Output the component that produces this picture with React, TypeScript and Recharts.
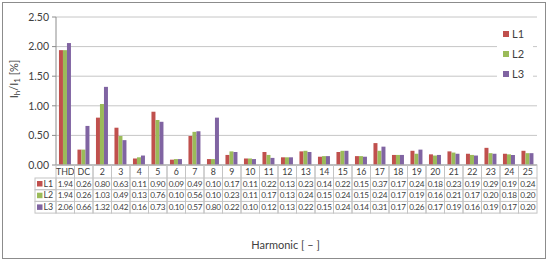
import React from "react";
import {
  BarChart,
  Bar,
  XAxis,
  YAxis,
  CartesianGrid,
  Label,
} from "recharts";

// Harmonic order categories (first two are THD and DC)
const CATEGORIES = [
  "THD", "DC", "2", "3", "4", "5", "6", "7", "8", "9", "10", "11", "12",
  "13", "14", "15", "16", "17", "18", "19", "20", "21", "22", "23", "24", "25",
];

// Ih/I1 in percent per phase
const L1 = [
  1.94, 0.26, 0.8, 0.63, 0.11, 0.9, 0.09, 0.49, 0.1, 0.17, 0.11, 0.22, 0.13,
  0.23, 0.14, 0.22, 0.15, 0.37, 0.17, 0.24, 0.18, 0.23, 0.19, 0.29, 0.19, 0.24,
];
const L2 = [
  1.94, 0.26, 1.03, 0.49, 0.13, 0.76, 0.1, 0.56, 0.1, 0.23, 0.11, 0.17, 0.13,
  0.24, 0.15, 0.24, 0.15, 0.24, 0.17, 0.19, 0.16, 0.21, 0.17, 0.2, 0.18, 0.2,
];
const L3 = [
  2.06, 0.66, 1.32, 0.42, 0.16, 0.73, 0.1, 0.57, 0.8, 0.22, 0.1, 0.12, 0.13,
  0.22, 0.15, 0.24, 0.14, 0.31, 0.17, 0.26, 0.17, 0.19, 0.16, 0.19, 0.17, 0.2,
];

const Y_TICKS = [0, 0.5, 1, 1.5, 2, 2.5];

const SERIES = [
  { key: "L1", color: "#C0504D", values: L1 },
  { key: "L2", color: "#9BBB59", values: L2 },
  { key: "L3", color: "#8064A2", values: L3 },
];

const data = CATEGORIES.map((name, i) => {
  const row: Record<string, string | number> = { name };
  SERIES.forEach((s) => (row[s.key] = s.values[i]));
  return row;
});

const FONT = "Lato, 'Liberation Sans', sans-serif";
const TEXT = "#404040";
const BORDER = "#c4c4c4";

// chart geometry
const W = 550;
const H = 264;
const LEFT = 56; // y axis position
const RIGHT = 13;
const BAND = (W - LEFT - RIGHT) / CATEGORIES.length;
const HEADER_H = 13;
const ROW_H = 11.7;

// Each x tick draws one column of the data table under the plot
const TableTick = (props: any) => {
  const { x, y, payload } = props;
  const i = payload.index;
  const left = x - BAND / 2;
  const total = HEADER_H + ROW_H * SERIES.length;
  return (
    <g fontFamily={FONT}>
      <rect x={left} y={y} width={BAND} height={total} fill="none" stroke={BORDER} strokeWidth={1} />
      {SERIES.map((s, r) => (
        <line
          key={s.key}
          x1={left}
          x2={left + BAND}
          y1={y + HEADER_H + ROW_H * r}
          y2={y + HEADER_H + ROW_H * r}
          stroke={BORDER}
        />
      ))}
      <text x={x} y={y + 10} textAnchor="middle" fontSize={8.8} fill={TEXT}>
        {payload.value}
      </text>
      {SERIES.map((s, r) => (
        <text
          key={s.key}
          x={x}
          y={y + HEADER_H + ROW_H * r + 8.6}
          textAnchor="middle"
          fontSize={8.2}
          letterSpacing={-0.3}
          fill={TEXT}
        >
          {s.values[i].toFixed(2)}
        </text>
      ))}
      {i === 0 && (
        <g>
          {SERIES.map((s, r) => {
            const ry = y + HEADER_H + ROW_H * r;
            return (
              <g key={s.key}>
                <rect x={left - 21} y={ry} width={21} height={ROW_H} fill="none" stroke={BORDER} />
                <rect x={left - 19} y={ry + 3} width={5.5} height={5.5} fill={s.color} />
                <text x={left - 12.5} y={ry + 8.6} fontSize={8.8} fill={TEXT}>
                  {s.key}
                </text>
              </g>
            );
          })}
        </g>
      )}
    </g>
  );
};

const YLabel = (props: any) => {
  const vb = props.viewBox;
  const cx = vb.x + 18;
  const cy = vb.y + vb.height / 2 - 12;
  return (
    <text
      x={cx}
      y={cy}
      transform={`rotate(-90 ${cx} ${cy})`}
      textAnchor="middle"
      fontFamily={FONT}
      fontSize={11}
      fill={TEXT}
    >
      I<tspan fontSize={8} dy={2}>h</tspan>
      <tspan dy={-2}>/I</tspan>
      <tspan fontSize={8} dy={2}>1</tspan>
      <tspan dy={-2}>{"  [%]"}</tspan>
    </text>
  );
};

const XLabel = (props: any) => {
  const vb = props.viewBox;
  return (
    <text
      x={vb.x + vb.width / 2 - 11}
      y={vb.y + vb.height + 4}
      textAnchor="middle"
      fontFamily={FONT}
      fontSize={11}
      fill={TEXT}
    >
      {"Harmonic [ – ]"}
    </text>
  );
};

export default function App() {
  return (
    <div style={{ position: "absolute", left: 0, top: 0, width: W, height: H, background: "#fff" }}>
      {/* outer chart border */}
      <div
        style={{
          position: "absolute",
          left: 2,
          top: 2,
          width: 544,
          height: 257,
          border: "1px solid #8c8c8c",
          boxSizing: "border-box",
        }}
      />
      <BarChart
        width={W}
        height={H}
        data={data}
        margin={{ top: 17, right: RIGHT, left: 0, bottom: 19 }}
        barCategoryGap="16%"
        barGap={0}
        style={{ position: "absolute", left: 0, top: 0 }}
      >
        <CartesianGrid vertical={false} stroke="#c6c6c6" />
        <XAxis
          dataKey="name"
          height={80}
          interval={0}
          tickSize={0}
          tickMargin={0}
          tickLine={false}
          axisLine={{ stroke: "#8c8c8c" }}
          tick={<TableTick />}
        >
          <Label content={<XLabel />} />
        </XAxis>
        <YAxis
          width={LEFT}
          domain={[0, 2.5]}
          ticks={Y_TICKS}
          tickSize={4}
          tickMargin={3}
          tickFormatter={(v: number) => v.toFixed(2)}
          tick={{ fontSize: 10.5, fill: TEXT, fontFamily: FONT }}
          axisLine={{ stroke: "#8c8c8c" }}
          tickLine={{ stroke: "#8c8c8c" }}
        >
          <Label content={<YLabel />} />
        </YAxis>
        {SERIES.map((s) => (
          <Bar key={s.key} dataKey={s.key} fill={s.color} isAnimationActive={false} />
        ))}
      </BarChart>
      {/* legend */}
      <div
        style={{
          position: "absolute",
          left: 497,
          top: 25,
          width: 36,
          height: 60,
          background: "#fff",
          fontFamily: FONT,
          fontSize: 11,
          color: TEXT,
        }}
      >
        {SERIES.map((s, r) => (
          <div
            key={s.key}
            style={{ position: "absolute", left: 6, top: 2 + r * 20, display: "flex", alignItems: "center" }}
          >
            <span style={{ width: 6, height: 6, background: s.color, marginRight: 3, display: "inline-block" }} />
            <span>{s.key}</span>
          </div>
        ))}
      </div>
    </div>
  );
}
